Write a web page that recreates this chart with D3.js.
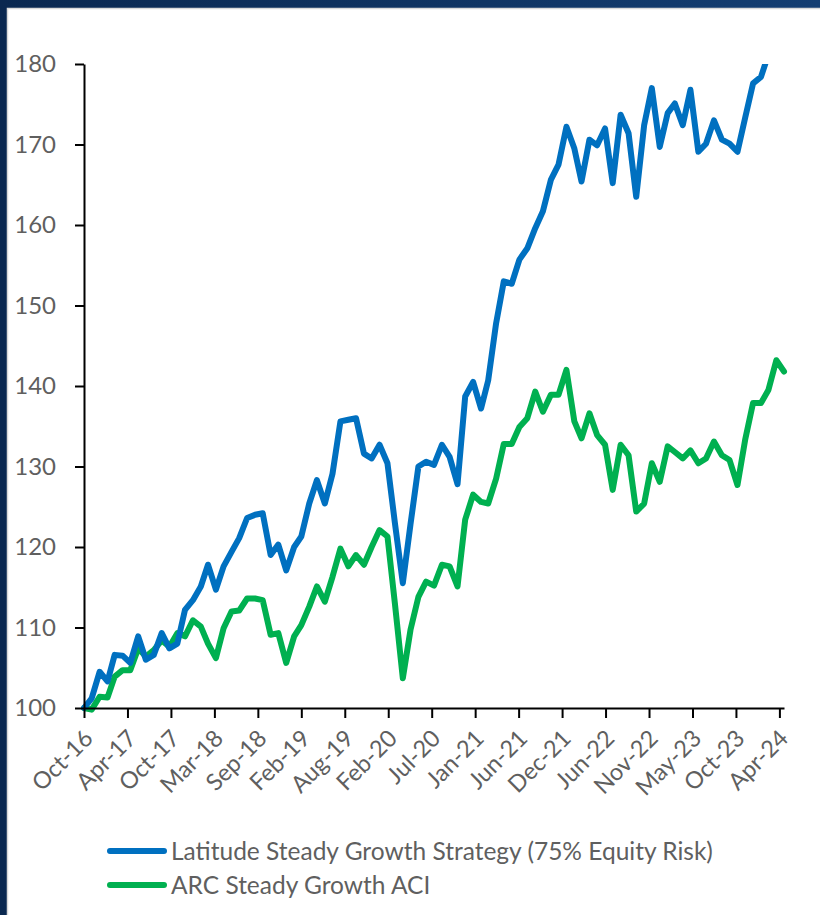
<!DOCTYPE html>
<html>
<head>
<meta charset="utf-8">
<script src="https://cdn.jsdelivr.net/npm/d3@7"></script>
<style>
  html, body { margin: 0; padding: 0; background: #0c2b55; }
  svg { display: block; }
</style>
</head>
<body>
<div id="chart"></div>
<script>
// Monthly index values, month-end, Oct-16 .. Apr-24 (91 points)
const firstMonth = "2016-10";

const latitude = [
  100.0, 101.2, 104.5, 103.3, 106.6, 106.5, 105.6, 108.9, 106.0, 106.6,
  109.3, 107.4, 108.0, 112.2, 113.4, 115.1, 117.8, 114.7, 117.6, 119.4,
  121.1, 123.6, 124.0, 124.2, 119.0, 120.3, 117.1, 120.0, 121.3, 125.4,
  128.3, 125.4, 129.1, 135.6, 135.8, 136.0, 131.6, 131.0, 132.7, 130.4,
  123.0, 115.5, 122.8, 130.0, 130.6, 130.2, 132.7, 131.2, 127.8, 138.7,
  140.5, 137.2, 140.7, 147.8, 153.0, 152.7, 155.7, 157.1, 159.6, 161.7,
  165.6, 167.5, 172.2, 169.5, 165.4, 170.6, 169.9, 172.0, 165.2, 173.7,
  171.4, 163.5, 172.4, 177.0, 169.7, 173.9, 175.1, 172.4, 176.8, 169.1,
  170.1, 173.0, 170.6, 170.1, 169.1, 173.3, 177.6, 178.4, 181.2, 182.4,
  181.8
];

const arc = [
  100.0,  99.8, 101.4, 101.3, 103.9, 104.7, 104.7, 107.4, 106.4, 107.2,
  108.4, 107.6, 109.3, 108.9, 110.9, 110.1, 108.0, 106.2, 109.9, 112.0,
  112.1, 113.6, 113.6, 113.4, 109.1, 109.3, 105.6, 108.9, 110.3, 112.6,
  115.1, 113.2, 116.3, 119.8, 117.6, 119.0, 117.8, 120.0, 122.1, 121.3,
  113.0, 103.7, 109.7, 113.8, 115.7, 115.2, 117.8, 117.6, 115.1, 123.4,
  126.5, 125.6, 125.4, 128.5, 132.8, 132.8, 134.9, 136.0, 139.3, 136.8,
  138.9, 138.9, 142.0, 135.6, 133.5, 136.6, 133.9, 132.7, 127.1, 132.7,
  131.4, 124.4, 125.4, 130.4, 128.1, 132.5, 131.8, 131.0, 132.0, 130.4,
  131.0, 133.1, 131.4, 130.8, 127.7, 133.3, 137.9, 137.9, 139.5, 143.2,
  141.8
];

const seriesNames = [
  "Latitude Steady Growth Strategy (75% Equity Risk)",
  "ARC Steady Growth ACI"
];
const seriesColors = ["#0070C0", "#00B050"];

const yTicks = [100, 110, 120, 130, 140, 150, 160, 170, 180];
const xTickLabels = [
  "Oct-16", "Apr-17", "Oct-17", "Mar-18", "Sep-18", "Feb-19", "Aug-19", "Feb-20", "Jul-20",
  "Jan-21", "Jun-21", "Dec-21", "Jun-22", "Nov-22", "May-23", "Oct-23", "Apr-24"
];
const xTickStepDays = 170; // date axis major unit

const width = 820, height = 915;
const plot = { left: 84, right: 784, top: 64, bottom: 708 };
const font = "Lato, 'Open Sans', sans-serif";
const textColor = "#5f5f5f";

// month-end dates for each observation
const start = d3.timeParse("%Y-%m")(firstMonth);
const dates = latitude.map((_, i) => d3.timeDay.offset(d3.timeMonth.offset(start, i + 1), -1));

const x = d3.scaleTime()
  .domain([dates[0], dates[dates.length - 1]])
  .range([plot.left, plot.right]);

const y = d3.scaleLinear()
  .domain([100, 180])
  .range([plot.bottom, plot.top]);

const svg = d3.select("#chart").append("svg")
  .attr("width", width)
  .attr("height", height);

// navy frame with gradient strip on top
const grad = svg.append("defs").append("linearGradient").attr("id", "frame");
grad.append("stop").attr("offset", "0%").attr("stop-color", "#0a2850");
grad.append("stop").attr("offset", "100%").attr("stop-color", "#143e72");
svg.append("rect").attr("width", width).attr("height", height).attr("fill", "url(#frame)");

// white panel
svg.append("rect")
  .attr("x", 7.5).attr("y", 8.5)
  .attr("width", width).attr("height", height)
  .attr("fill", "#fff")
  .attr("stroke", "#d9d9d9")
  .attr("stroke-width", 1.5);

svg.select("defs").append("clipPath").attr("id", "plotClip")
  .append("rect")
  .attr("x", plot.left - 10).attr("y", plot.top)
  .attr("width", plot.right - plot.left + 20)
  .attr("height", plot.bottom - plot.top + 10);

// lines
const line = d3.line()
  .x((d, i) => x(dates[i]))
  .y(d => y(d));

const linesG = svg.append("g").attr("clip-path", "url(#plotClip)");
[arc, latitude].forEach((vals, k) => {
  linesG.append("path")
    .datum(vals)
    .attr("d", line)
    .attr("fill", "none")
    .attr("stroke", seriesColors[1 - k])
    .attr("stroke-width", 6)
    .attr("stroke-linejoin", "round")
    .attr("stroke-linecap", "round");
});

// Y axis
const yAxis = svg.append("g")
  .attr("transform", `translate(${plot.left},0)`)
  .call(d3.axisLeft(y).tickValues(yTicks).tickSize(9).tickPadding(19).tickSizeOuter(0));
yAxis.select(".domain").attr("stroke", "#000").attr("stroke-width", 2);
yAxis.selectAll(".tick line").attr("stroke", "#000").attr("stroke-width", 2);
yAxis.selectAll(".tick text")
  .attr("fill", textColor)
  .style("font-family", font)
  .style("font-size", "24px");

// X axis
const xTickDates = xTickLabels.map((_, i) => d3.timeDay.offset(dates[0], i * xTickStepDays));
const xAxis = svg.append("g")
  .attr("transform", `translate(0,${plot.bottom})`)
  .call(d3.axisBottom(x)
    .tickValues(xTickDates)
    .tickFormat((d, i) => xTickLabels[i])
    .tickSize(10)
    .tickSizeOuter(0));
xAxis.select(".domain").attr("stroke", "#000").attr("stroke-width", 2);
xAxis.selectAll(".tick line").attr("stroke", "#000").attr("stroke-width", 2);
xAxis.selectAll(".tick text")
  .attr("fill", textColor)
  .style("font-family", font)
  .style("font-size", "23.5px")
  .attr("text-anchor", "end")
  .attr("y", 0)
  .attr("dy", "0.35em")
  .attr("transform", "translate(4,26) rotate(-45)");

// Legend
const legend = svg.append("g");
seriesNames.forEach((name, i) => {
  const ly = 851 + i * 34;
  legend.append("line")
    .attr("x1", 110).attr("x2", 164)
    .attr("y1", ly).attr("y2", ly)
    .attr("stroke", seriesColors[i])
    .attr("stroke-width", 6)
    .attr("stroke-linecap", "round");
  legend.append("text")
    .attr("x", 171).attr("y", ly)
    .attr("dy", "0.35em")
    .attr("fill", textColor)
    .style("font-family", font)
    .style("font-size", "24.5px")
    .text(name);
});
</script>
</body>
</html>
